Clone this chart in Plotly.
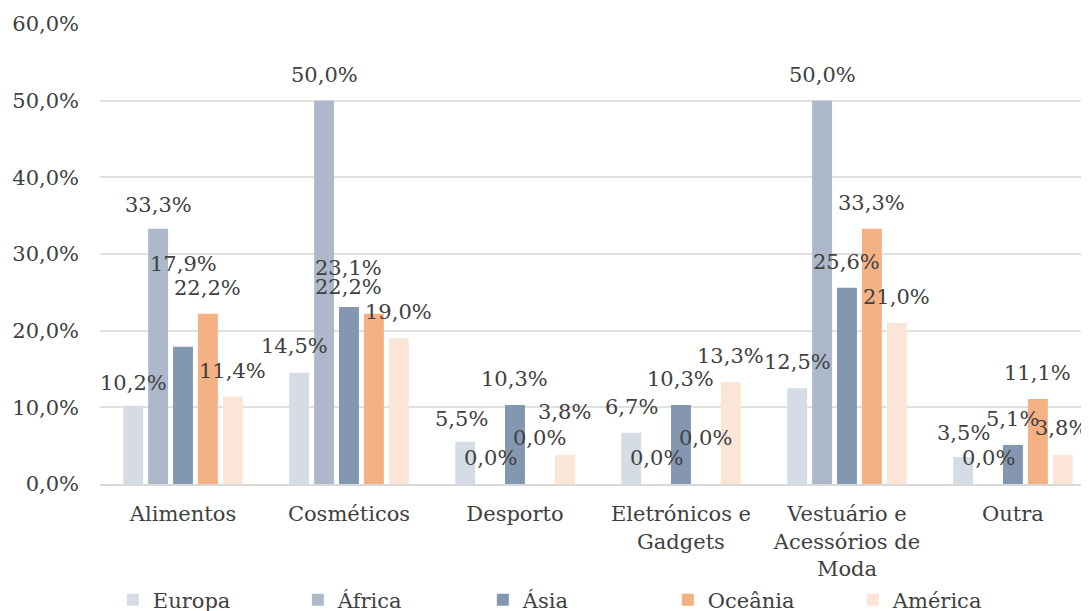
import plotly.graph_objects as go

categories = ["Alimentos", "Cosméticos", "Desporto", "Eletrónicos e<br>Gadgets",
              "Vestuário e<br>Acessórios de<br>Moda", "Outra"]
series_names = ["Europa", "África", "Ásia", "Oceânia", "América"]
europa = [10.2, 14.5, 5.5, 6.7, 12.5, 3.5]
africa = [33.3, 50.0, 0.0, 0.0, 50.0, 0.0]
asia = [17.9, 23.1, 10.3, 10.3, 25.6, 5.1]
oceania = [22.2, 22.2, 0.0, 0.0, 33.3, 11.1]
america = [11.4, 19.0, 3.8, 13.3, 21.0, 3.8]
tick_vals = [0, 10, 20, 30, 40, 50, 60]
tick_text = ["0,0%", "10,0%", "20,0%", "30,0%", "40,0%", "50,0%", "60,0%"]

colors = ["#D6DCE5", "#ADB9CA", "#8497B0", "#F4B183", "#FBE5D6"]
all_series = [europa, africa, asia, oceania, america]

FONT = "DejaVu Serif"
TXT = "#404040"
FS = 21

fig = go.Figure()
for name, vals, col in zip(series_names, all_series, colors):
    fig.add_trace(go.Bar(name=name, x=categories, y=vals, marker_color=col,
                         marker_line_width=0))

# label offsets (pixels): default lift above bar top, with manual overrides like the original
default_lift = 26
overrides = {  # (series index, category index): (xshift extra, yshift)
    (0, 0): (0, 23),
    (1, 0): (0, 24),
    (2, 0): (0, 83),
    (2, 1): (0, 39),
    (3, 1): (-25, 27),
    (3, 2): (0, 46),
    (4, 2): (0, 43),
    (3, 3): (0, 46),
    (0, 1): (-5, 27),
    (0, 2): (-4, 23),
    (0, 5): (0, 24),
    (4, 5): (-1, 27),
}
slot = 24.9
for si, vals in enumerate(all_series):
    for ci, v in enumerate(vals):
        dx, dy = overrides.get((si, ci), (0, default_lift))
        label = f"{v:.1f}%".replace(".", ",")
        fig.add_annotation(x=categories[ci], y=v, text=label, showarrow=False,
                           xshift=(si - 2) * slot + dx, yshift=dy,
                           xanchor="center", yanchor="middle",
                           font=dict(family=FONT, size=FS, color=TXT))

fig.update_layout(
    width=1081, height=603,
    margin=dict(l=92, r=0, t=16, b=127, autoexpand=False),
    paper_bgcolor="white", plot_bgcolor="white",
    barmode="group", bargap=0.25, bargroupgap=0.2,
    font=dict(family=FONT, size=FS, color=TXT),
    showlegend=True,
    legend=dict(orientation="h", x=0.013, xanchor="left",
                yref="container", y=0.018, yanchor="middle",
                entrywidth=140, entrywidthmode="pixels",
                font=dict(family=FONT, size=FS, color=TXT),
                traceorder="normal"),
    xaxis=dict(range=[-0.5, 5.458], showgrid=False, showline=True, linecolor="#D9D9D9",
               linewidth=2, ticks="", ticklabelstandoff=10,
               tickfont=dict(family=FONT, size=FS, color=TXT)),
    yaxis=dict(range=[0, 60], tickvals=tick_vals, ticktext=tick_text,
               showgrid=True, gridcolor="#E0E0E0", gridwidth=1.5, zeroline=False,
               showline=False, ticks="", ticklabelstandoff=20,
               tickfont=dict(family=FONT, size=FS, color=TXT)),
)

fig.write_html("out.html")
